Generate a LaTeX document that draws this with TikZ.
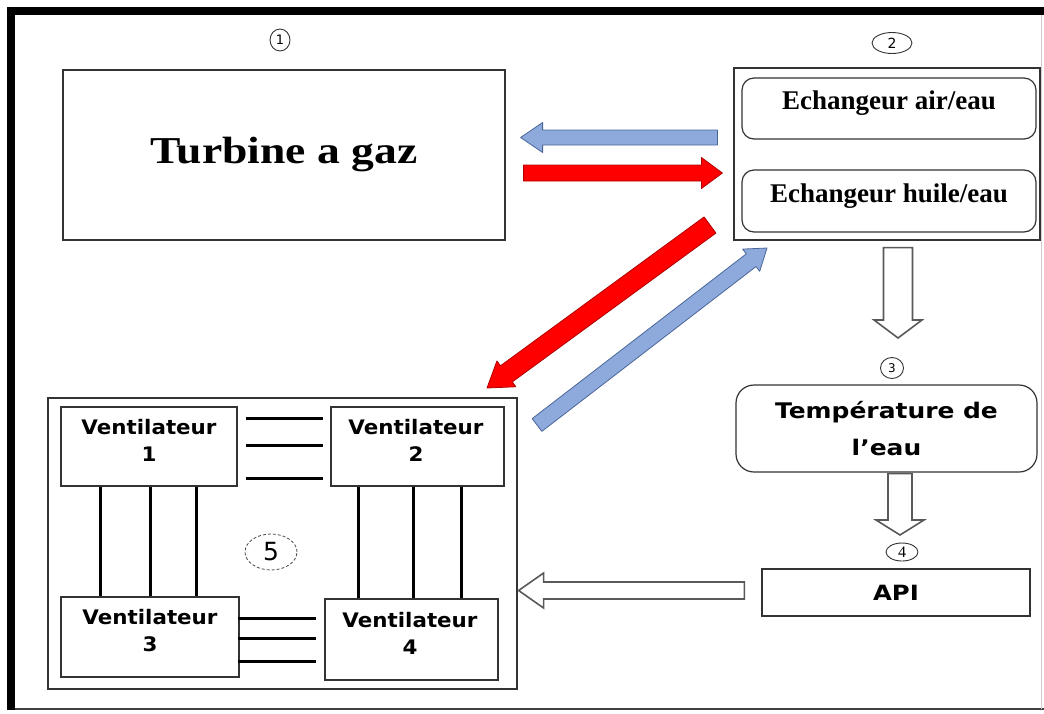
\documentclass[tikz,border=0pt]{standalone}
\usepackage{fontspec}
\usepackage{graphicx}
\setmainfont{Liberation Serif}
\newfontfamily\dvs{DejaVu Sans}
\usetikzlibrary{calc,shapes.geometric}
\definecolor{arblue}{HTML}{8EA9DB}
\definecolor{arblueb}{HTML}{4A6699}
\definecolor{arred}{HTML}{FF0000}
\definecolor{arredb}{HTML}{B00000}
\newcommand\fatarr[6]{%
  \coordinate (fa-h) at ($(#3)!#6!(#2)$);
  \draw[#1] ($(#2)!#4!90:(#3)$) -- ($(fa-h)!#4!90:(#3)$) -- ($(fa-h)!#5!90:(#3)$)
    -- (#3) -- ($(fa-h)!#5!-90:(#3)$) -- ($(fa-h)!#4!-90:(#3)$) -- ($(#2)!#4!-90:(#3)$) -- cycle;}
\newcommand\wide[1]{\scalebox{1.07}[1]{#1}}
\newcommand\wider[1]{\scalebox{1.16}[1]{#1}}
\begin{document}
\begin{tikzpicture}[x=1pt,y=-1pt,
  box/.style={draw=black!80, line width=1.2pt, inner sep=0pt},
  rbox/.style={box, rounded corners=12pt},
  bluearr/.style={fill=arblue, draw=arblueb, line width=0.8pt, line join=round},
  redarr/.style={fill=arred, draw=arredb, line width=0.8pt, line join=round},
  outarr/.style={fill=white, draw=black!65, line width=1.6pt, line join=miter},
  link/.style={line width=3pt, black},
  num/.style={draw=black!80, ellipse, line width=0.9pt, inner sep=0pt},
  vtext/.style={font=\dvs\bfseries\fontsize{20}{27}\selectfont, align=center},
  etext/.style={font=\bfseries\fontsize{27}{30}\selectfont}]
\useasboundingbox (0,0) rectangle (1044,713);
% frame
\fill[black] (7,7) rectangle (1044,15);
\fill[black] (7,7) rectangle (15,710);
\draw[black!75, line width=1.5pt] (15,709) -- (1044,709);
\draw[black!20, line width=0.8pt] (1041,15) -- (1041,709);
% boxes
\node[box, minimum width=442pt, minimum height=170pt] (tg) at (284,155)
  {\bfseries\fontsize{38}{40}\selectfont\scalebox{1.2}[1]{Turbine a gaz}};
\node[box, minimum width=306pt, minimum height=172pt] (ex) at (887,154) {};
\node[rbox, minimum width=294pt, minimum height=61pt] (air) at (889,108.5) {};
\node[etext] (airt) at (889,103) {Echangeur air/eau};
\node[rbox, minimum width=294pt, minimum height=62pt] (hui) at (889,201) {};
\node[etext] (huit) at (889,196) {Echangeur huile/eau};
\node[box, rounded corners=18pt, minimum width=301pt, minimum height=87pt, align=center,
  font=\dvs\bfseries\fontsize{21.5}{37}\selectfont] (temp) at (886.5,428.5)
  {\wider{Température de}\\\wider{l’eau}};
\node[box, minimum width=268pt, minimum height=47pt, font=\dvs\bfseries\fontsize{21}{24}\selectfont] (api) at (896,592.5)
  {\wider{API}};
\node[box, minimum width=469pt, minimum height=291pt] (grp) at (282.5,543.5) {};
\node[box, minimum width=176pt, minimum height=79pt] (v1) at (149,446.5) {};
\node[vtext] (v1t) at (149,440) {\wide{Ventilateur}\\\wide{1}};
\node[box, minimum width=173pt, minimum height=79pt] (v2) at (417.5,446.5) {};
\node[vtext] (v2t) at (416,440) {\wide{Ventilateur}\\\wide{2}};
\node[box, minimum width=178pt, minimum height=80pt] (v3) at (150,637) {};
\node[vtext] (v3t) at (150,631) {\wide{Ventilateur}\\\wide{3}};
\node[box, minimum width=173pt, minimum height=81pt] (v4) at (411.5,639.5) {};
\node[vtext] (v4t) at (410,633) {\wide{Ventilateur}\\\wide{4}};
% numbers
\node[num, minimum width=20pt, minimum height=22pt] (n1) at (280,40) {\dvs\fontsize{13}{13}\selectfont 1};
\node[num, minimum width=40pt, minimum height=21pt] (n2) at (892,43) {\dvs\fontsize{14}{14}\selectfont 2};
\node[num, minimum width=23pt, minimum height=21pt] (n3) at (892,368) {\dvs\fontsize{12}{12}\selectfont 3};
\node[num, minimum width=32pt, minimum height=18pt] (n4) at (902,552) {\fontsize{16}{16}\selectfont 4};
\node[num, draw=black!70, densely dashed, line width=0.8pt, minimum width=52pt, minimum height=36pt] (n5) at (271,552)
  {\dvs\fontsize{25}{25}\selectfont 5};
% coordinates for the fat arrows
\coordinate (b1s) at (ex.west |- 0,137.5); \coordinate (b1e) at (tg.east |- 0,137.5);
\coordinate (r1s) at (tg.east |- 0,173);   \coordinate (r1e) at (ex.west |- 0,173);
\coordinate (r2s) at (710,225);  \coordinate (r2e) at (487,388);
\coordinate (b2s) at (537,425);  \coordinate (b2e) at (767,248);
\coordinate (d1s) at (ex.south -| 898,0);  \coordinate (d1e) at (898,338);
\coordinate (d2s) at (temp.south -| 900,0); \coordinate (d2e) at (900,535);
\coordinate (lfs) at (api.west |- 0,590.5); \coordinate (lfe) at (grp.east |- 0,590.5);
\fatarr{bluearr}{$(b1s)+(-16,0)$}{$(b1e)+(15,0)$}{7.5pt}{15pt}{22pt}
\fatarr{redarr}{$(r1s)+(18,0)$}{$(r1e)+(-11,0)$}{8pt}{15.5pt}{21pt}
\fatarr{redarr}{r2s}{r2e}{10pt}{16pt}{24pt}
\fatarr{bluearr}{b2s}{b2e}{8pt}{14pt}{20pt}
\fatarr{outarr}{$(d1s)+(0,7)$}{d1e}{14.5pt}{24pt}{18pt}
\fatarr{outarr}{$(d2s)+(0,1)$}{d2e}{12pt}{24pt}{15pt}
\fatarr{outarr}{$(lfs)+(-17,0)$}{$(lfe)+(1,0)$}{8.5pt}{17.5pt}{25pt}
% links between fans
\foreach \yy in {418,445,478}
  \draw[link, shorten <=8pt, shorten >=7pt] (v1.east |- 0,\yy) -- (v2.west |- 0,\yy);
\foreach \yy in {618,638,661}
  \draw[link, shorten <=-2pt, shorten >=8pt] (v3.east |- 0,\yy) -- (v4.west |- 0,\yy);
\foreach \xx in {100,150,196}
  \draw[link] (v1.south -| \xx,0) -- (v3.north -| \xx,0);
\foreach \xx in {358,413,461}
  \draw[link] (v2.south -| \xx,0) -- (v4.north -| \xx,0);
\end{tikzpicture}
\end{document}
